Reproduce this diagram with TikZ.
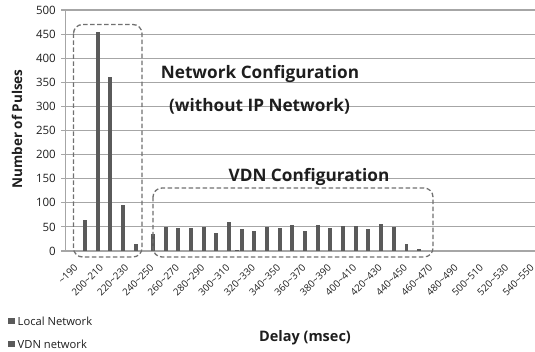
\documentclass[tikz,border=0pt]{standalone}
\usepackage{fontspec}
\setmainfont{Open Sans}
\newcommand\tld{\textasciitilde}
\definecolor{gridc}{HTML}{A6A6A6}
\definecolor{barc}{HTML}{5A5A5A}
\definecolor{boxc}{HTML}{707070}
\definecolor{txtc}{HTML}{1E1E1E}
\tikzset{
  gridline/.style={draw=gridc, line width=1.1pt},
  barfill/.style={fill=barc},
  dbox/.style={draw=boxc, line width=1.3pt, dash pattern=on 4.5pt off 2.5pt, rounded corners=9pt},
  ylab/.style={anchor=east, text=txtc, font=\fontsize{11.5}{13}\selectfont, inner sep=0pt},
  xlab/.style={anchor=east, rotate=45, text=txtc, font=\fontsize{9.8}{11}\selectfont, inner sep=0pt},
  ann/.style={text=txtc, font=\bfseries\fontsize{17.2}{20}\selectfont, inner sep=0pt},
  axtitle/.style={text=txtc, font=\bfseries\fontsize{13.5}{16}\selectfont, inner sep=0pt},
  legtext/.style={anchor=west, text=txtc, font=\fontsize{11.2}{13}\selectfont, inner sep=0pt}
}
\begin{document}
\begin{tikzpicture}[x=1pt,y=-1pt]
\useasboundingbox (0,0) rectangle (535,352);
% grid and y labels
\foreach \v in {0,50,...,500} {
  \draw[gridline] (61,{251-0.482*\v}) -- (535,{251-0.482*\v});
  \node[ylab] (y\v) at (56,{251-0.482*\v}) {\v};
}
\draw[gridline] (65.7,{251-0.482*500}) -- (65.7,251);
% Local network bars
\foreach \x/\v in {85/65, 97.67/455, 110.34/362, 123.01/95, 135.68/15, 237/3} {
  \fill[barfill] (\x-1.9,251) rectangle (\x+1.9,{251-0.482*\v});
}
% VDN network bars
\foreach \v [count=\j from 0] in {35,50,48,48,50,37,61,46,42,50,48,54,42,54,48,51,51,46,56,50,14,4} {
  \fill[barfill] ({153+12.67*\j-1.9},251) rectangle ({153+12.67*\j+1.9},{251-0.482*\v});
}
% x tick labels
\foreach \t [count=\i from 0] in {{\tld190},{200\tld210},{220\tld230},{240\tld250},{260\tld270},{280\tld290},{300\tld310},{320\tld330},{340\tld350},{360\tld370},{380\tld390},{400\tld410},{420\tld430},{440\tld450},{460\tld470},{480\tld490},{500\tld510},{520\tld530},{540\tld550}} {
  \node[xlab] (x\i) at ({65.7+12.67*(2*\i+0.5)+4},266) {\t};
}
% dashed boxes
\draw[dbox] (73.5,24.5) rectangle (142,257);
\draw[dbox] (153,188) rectangle (433,257);
% annotations
\node[ann] (nc) at (260,73.5) {Network Configuration};
\node[ann] (wo) at (259.5,106.5) {(without IP Network)};
\node[ann] (vc) at (309,177) {VDN Configuration};
% axis titles
\node[axtitle, rotate=90] (yt) at (17,129) {Number of Pulses};
\node[axtitle, font=\bfseries\fontsize{14.5}{17}\selectfont] (xt) at (305,338) {Delay (msec)};
% legend
\fill[barfill] (8,318) rectangle (15,324);
\node[legtext] (l1) at (17.5,321) {Local Network};
\fill[barfill] (8,341) rectangle (15,347);
\node[legtext] (l2) at (17.5,344) {VDN network};
\end{tikzpicture}
\end{document}
